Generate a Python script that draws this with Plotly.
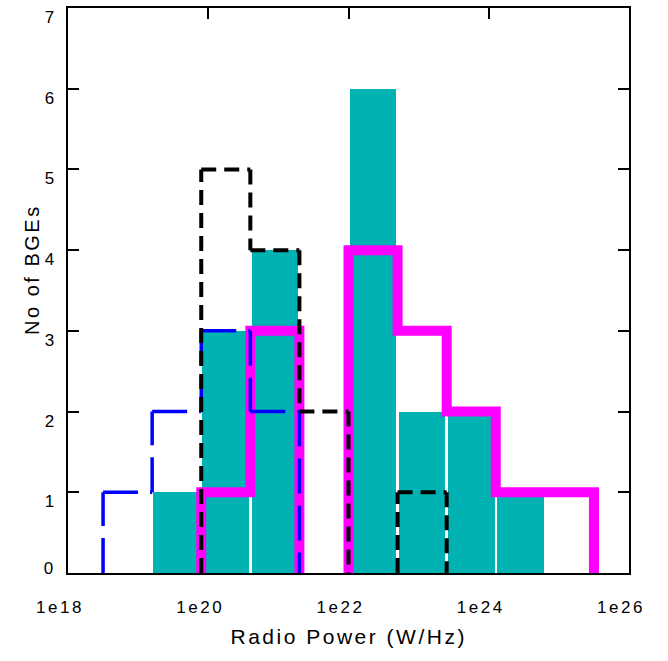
import plotly.graph_objects as go

# log10 of the radio power (W/Hz) at the histogram bin edges
bin_edges = [18.5, 19.2, 19.9, 20.6, 21.3, 22.0, 22.7, 23.4, 24.1, 24.8, 25.5]

# number of BGEs in each bin
counts_filled = [0, 1, 3, 4, 0, 6, 2, 2, 1, 0]
counts_black = [0, 0, 5, 4, 2, 0, 1, 0, 0, 0]
counts_blue = [1, 2, 3, 2, 0, 0, 0, 0, 0, 0]
counts_magenta = [0, 0, 1, 3, 0, 4, 3, 2, 1, 1]

x_tick_vals = [18, 20, 22, 24, 26]
x_tick_text = ["1e18", "1e20", "1e22", "1e24", "1e26"]
y_tick_vals = [0, 1, 2, 3, 4, 5, 6, 7]
y_tick_text = ["", "1", "2", "3", "4", "5", "6", "7"]

FONT = "Liberation Sans, Arial, sans-serif"
TEAL = "rgb(0,178,178)"


def outline_segments(edges, counts):
    """Segments of a histogram outline, walked from left to right."""
    segs = []
    padded = [0] + list(counts) + [0]
    for i, e in enumerate(edges):
        lo, hi = padded[i], padded[i + 1]
        if lo != hi:
            segs.append(((e, lo), (e, hi)))
        if i < len(counts) and counts[i] > 0:
            segs.append(((e, counts[i]), (edges[i + 1], counts[i])))
    return segs


def polyline(segs, split_all=False):
    """Turn segments into x/y arrays; None breaks the path into subpaths."""
    xs, ys = [], []
    last = None
    for (p0, p1) in segs:
        if split_all or last != p0:
            if xs:
                xs.append(None)
                ys.append(None)
            xs.append(p0[0])
            ys.append(p0[1])
        xs.append(p1[0])
        ys.append(p1[1])
        last = p1
    return xs, ys


centers = [(a + b) / 2 for a, b in zip(bin_edges[:-1], bin_edges[1:])]
bin_w = bin_edges[1] - bin_edges[0]

fig = go.Figure()

fig.add_trace(go.Bar(
    x=centers, y=counts_filled, width=bin_w * 0.95,
    marker=dict(color=TEAL, line=dict(width=0)),
    showlegend=False, hoverinfo="skip",
))

mx, my = polyline(outline_segments(bin_edges, counts_magenta))
fig.add_trace(go.Scatter(
    x=mx, y=my, mode="lines", connectgaps=False,
    line=dict(color="#ff00ff", width=10),
    showlegend=False, hoverinfo="skip",
))

bx, by = polyline(outline_segments(bin_edges, counts_blue), split_all=True)
fig.add_trace(go.Scatter(
    x=bx, y=by, mode="lines", connectgaps=False,
    line=dict(color="#0000ff", width=3.5, dash="35px,12px"),
    showlegend=False, hoverinfo="skip",
))

kx, ky = polyline(outline_segments(bin_edges, counts_black), split_all=True)
fig.add_trace(go.Scatter(
    x=kx, y=ky, mode="lines", connectgaps=False,
    line=dict(color="#000000", width=4, dash="15px,8px"),
    showlegend=False, hoverinfo="skip",
))

axis_common = dict(
    showgrid=False, zeroline=False,
    showline=True, linewidth=2, linecolor="black", mirror="allticks",
    ticks="inside", ticklen=11, tickwidth=2, tickcolor="black",
    tickfont=dict(family=FONT, size=17, color="black"),
    layer="below traces",
)

fig.update_xaxes(
    range=[18, 26], tickmode="array", tickvals=x_tick_vals, ticktext=x_tick_text,
    ticklabelshift=-8, ticklabelstandoff=18, **axis_common,
)
fig.update_yaxes(
    range=[0, 7], tickmode="array", tickvals=y_tick_vals, ticktext=y_tick_text,
    ticklabelshift=9, ticklabelstandoff=6, **axis_common,
)

fig.update_layout(
    width=668, height=661,
    margin=dict(l=68, r=39, t=6, b=88),
    paper_bgcolor="white", plot_bgcolor="white",
    bargap=0,
    font=dict(family=FONT, color="black"),
    annotations=[
        dict(text="Radio Power (W/Hz)", xref="paper", yref="paper",
             x=0.5, y=-0.113, xanchor="center", yanchor="middle",
             showarrow=False, font=dict(family=FONT, size=21, color="black")),
        dict(text="No of BGEs", xref="paper", yref="paper",
             x=-0.064, y=0.5375, xanchor="center", yanchor="middle",
             textangle=-90, showarrow=False,
             font=dict(family=FONT, size=20, color="black")),
        dict(text="0", xref="paper", yref="y",
             x=-0.022, y=0, xanchor="right", yanchor="middle", yshift=5,
             showarrow=False, font=dict(family=FONT, size=17, color="black")),
    ],
)

# widen the letter spacing of all labels
spacing_js = """
var gd = document.getElementById('{plot_id}');
function spreadLabels() {
  gd.querySelectorAll('.xtick text, .ytick text, .annotation-text').forEach(function (t) {
    t.style.letterSpacing = '2.5px';
  });
}
spreadLabels();
gd.on('plotly_afterplot', spreadLabels);
"""

fig.write_html("out.html", post_script=spacing_js)
